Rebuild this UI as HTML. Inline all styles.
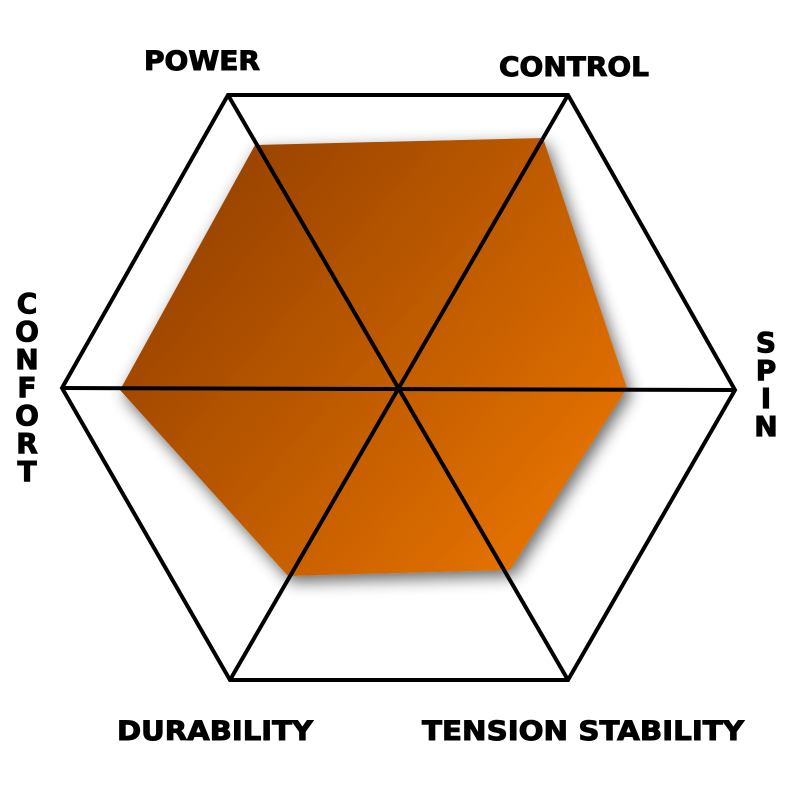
<!DOCTYPE html>
<html><head><meta charset="utf-8"><style>
html,body{margin:0;padding:0;background:#fff;width:800px;height:800px;overflow:hidden}
text{font-family:"DejaVu Sans","Liberation Sans",sans-serif;font-weight:bold;fill:#000;stroke:#000;stroke-width:1}
</style></head><body>
<svg width="800" height="800" viewBox="0 0 800 800" xmlns="http://www.w3.org/2000/svg">
<defs>
<linearGradient id="g" x1="120" y1="140" x2="627" y2="576" gradientUnits="userSpaceOnUse">
<stop offset="0" stop-color="#8a3a05"/>
<stop offset="1" stop-color="#f27a00"/>
</linearGradient>
<filter id="s" x="-20%" y="-20%" width="140%" height="140%">
<feGaussianBlur in="SourceAlpha" stdDeviation="8"/>
<feOffset dx="4" dy="6" result="b"/>
<feComponentTransfer><feFuncA type="linear" slope="0.6"/></feComponentTransfer>
<feMerge><feMergeNode/><feMergeNode in="SourceGraphic"/></feMerge>
</filter>
</defs>
<polygon points="255,145 543,138 627,388 510,570 288,576 120,390" fill="url(#g)" filter="url(#s)"/>
<g stroke="#000" stroke-width="4" fill="none" stroke-linejoin="miter">
<polygon points="228,95 568,95 735,390 568,680 230,680 62,388"/>
<line x1="228" y1="95" x2="568" y2="680"/>
<line x1="568" y1="95" x2="230" y2="680"/>
<line x1="62" y1="388" x2="735" y2="390"/>
</g>
<g font-size="27">
<text x="144" y="70" textLength="116" lengthAdjust="spacingAndGlyphs">POWER</text>
<text x="499" y="76" textLength="150" lengthAdjust="spacingAndGlyphs">CONTROL</text>
<text x="117" y="740" textLength="196" lengthAdjust="spacingAndGlyphs">DURABILITY</text>
<text x="422" y="740" textLength="322" lengthAdjust="spacingAndGlyphs">TENSION STABILITY</text>
</g>
<g font-size="28" text-anchor="middle">
<text x="27" y="313">C</text><text x="27" y="341">O</text><text x="27" y="369">N</text><text x="27" y="397">F</text><text x="27" y="425">O</text><text x="27" y="453">R</text><text x="27" y="481">T</text>
<text x="766" y="352">S</text><text x="766" y="380">P</text><text x="766" y="408">I</text><text x="766" y="436">N</text>
</g>
</svg>
</body></html>
